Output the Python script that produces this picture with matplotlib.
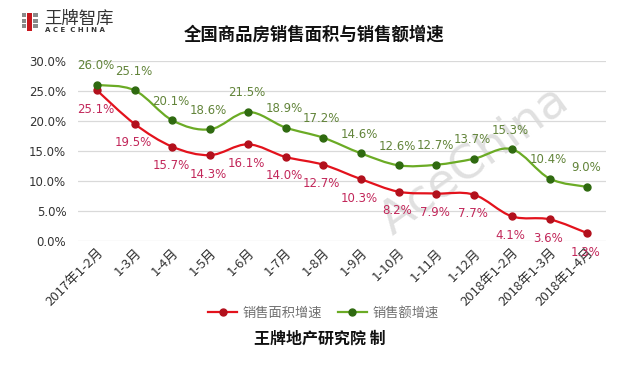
import numpy as np
import matplotlib
matplotlib.use("Agg")
import matplotlib.pyplot as plt
from matplotlib.path import Path
from matplotlib.patches import PathPatch, Rectangle

plt.rcParams['font.family'] = ['DejaVu Sans', 'Noto Sans CJK SC']

# data
months = ['2017年1-2月', '1-3月', '1-4月', '1-5月', '1-6月', '1-7月', '1-8月',
          '1-9月', '1-10月', '1-11月', '1-12月', '2018年1-2月', '2018年1-3月', '2018年1-4月']
area_growth = [25.1, 19.5, 15.7, 14.3, 16.1, 14.0, 12.7, 10.3, 8.2, 7.9, 7.7, 4.1, 3.6, 1.3]
amount_growth = [26.0, 25.1, 20.1, 18.6, 21.5, 18.9, 17.2, 14.6, 12.6, 12.7, 13.7, 15.3, 10.4, 9.0]
yticks = [0, 5, 10, 15, 20, 25, 30]

RED_LINE, RED_DOT, RED_TXT = '#e3121c', '#b2101c', '#c2275a'
GRN_LINE, GRN_DOT, GRN_TXT = '#6bab25', '#2f6a10', '#62843a'
CJK = ['Noto Sans CJK SC', 'DejaVu Sans']


def smooth_path(x, y, t=0.17):
    # Catmull-Rom style cubic bezier through the points
    x = np.asarray(x, float)
    y = np.asarray(y, float)
    verts = [(x[0], y[0])]
    codes = [Path.MOVETO]
    n = len(x)
    for i in range(n - 1):
        p0 = i - 1 if i > 0 else i
        p3 = i + 2 if i + 2 < n else i + 1
        c1 = (x[i] + t * (x[i + 1] - x[p0]), y[i] + t * (y[i + 1] - y[p0]))
        c2 = (x[i + 1] - t * (x[p3] - x[i]), y[i + 1] - t * (y[p3] - y[i]))
        verts += [c1, c2, (x[i + 1], y[i + 1])]
        codes += [Path.CURVE4] * 3
    return Path(verts, codes)


fig = plt.figure(figsize=(6.4, 3.65), dpi=100)
ax = fig.add_axes([0.122, 0.340, 0.825, 0.493])

xs = np.arange(len(months))
for vals, lc, dc in [(area_growth, RED_LINE, RED_DOT), (amount_growth, GRN_LINE, GRN_DOT)]:
    ax.add_patch(PathPatch(smooth_path(xs, vals), fc='none', ec=lc, lw=1.6, zorder=3))
    ax.plot(xs, vals, ls='none', marker='o', ms=5, color=dc, zorder=4)

for i, v in enumerate(amount_growth):
    ax.annotate(f'{v:.1f}%', (i, v), xytext=(-1, 9), textcoords='offset points',
                ha='center', va='bottom', fontsize=8.5, color=GRN_TXT, zorder=5)
for i, v in enumerate(area_growth):
    ax.annotate(f'{v:.1f}%', (i, v), xytext=(-1, -9), textcoords='offset points',
                ha='center', va='top', fontsize=8.5, color=RED_TXT, zorder=5)

ax.set_xlim(-0.5, len(months) - 0.5)
ax.set_ylim(0, 30)
ax.set_yticks(yticks)
ax.set_yticklabels([f'{v:.1f}%' for v in yticks], fontsize=8.5, color='#333333')
ax.set_xticks(xs)
ax.set_xticklabels(months, rotation=45, ha='right', rotation_mode='anchor',
                   fontsize=9.5, color='#333333', family=CJK)
ax.tick_params(axis='x', length=0, pad=4)
ax.tick_params(axis='y', length=0, pad=8.5)
ax.grid(axis='y', color='#d9d9d9', lw=0.9)
ax.set_axisbelow(True)
for s in ax.spines.values():
    s.set_visible(False)

# legend proxies
l1, = ax.plot([], [], color=RED_LINE, lw=1.6, marker='o', ms=5, mfc=RED_DOT, mec=RED_DOT)
l2, = ax.plot([], [], color=GRN_LINE, lw=1.6, marker='o', ms=5, mfc=GRN_DOT, mec=GRN_DOT)
fig.legend([l1, l2], ['销售面积增速', '销售额增速'], loc='center', bbox_to_anchor=(0.505, 0.142),
           ncol=2, frameon=False, prop={'family': CJK, 'size': 9.5}, labelcolor='#707070',
           handlelength=2.2, columnspacing=1.2, handletextpad=0.4)

# watermark
ax.text(0.75, 0.45, 'AceChina', transform=ax.transAxes, rotation=36, fontsize=34,
        color='#d9d9d9', ha='center', va='center', alpha=0.8, zorder=2)

# titles
fig.text(0.49, 0.905, '全国商品房销售面积与销售额增速', ha='center', va='center',
         fontsize=12.5, fontweight='bold', family=CJK, color='#111111')
fig.text(0.5, 0.072, '王牌地产研究院 制', ha='center', va='center',
         fontsize=11.5, fontweight='bold', family=CJK, color='#111111')

# logo
fig.patches.append(Rectangle((27 / 640, 1 - 31 / 365), 5 / 640, 18 / 365, transform=fig.transFigure,
                             fc='#c8161d', ec='none'))
for yy in [13, 18.5, 24]:
    fig.patches.append(Rectangle((22 / 640, 1 - (yy + 4) / 365), 4 / 640, 4 / 365,
                                 transform=fig.transFigure, fc='#8a8a8a', ec='none'))
    fig.patches.append(Rectangle((33 / 640, 1 - (yy + 4) / 365), 5 / 640, 4 / 365,
                                 transform=fig.transFigure, fc='#8a8a8a', ec='none'))
fig.text(44 / 640, 1 - 18.5 / 365, '王牌智库', ha='left', va='center', fontsize=12.5,
         family=CJK, color='#333333')
fig.text(45 / 640, 1 - 30 / 365, 'A C E  C H I N A', ha='left', va='center', fontsize=5,
         fontweight='bold', color='#333333')

fig.savefig('out.png', dpi=100, facecolor='white')
